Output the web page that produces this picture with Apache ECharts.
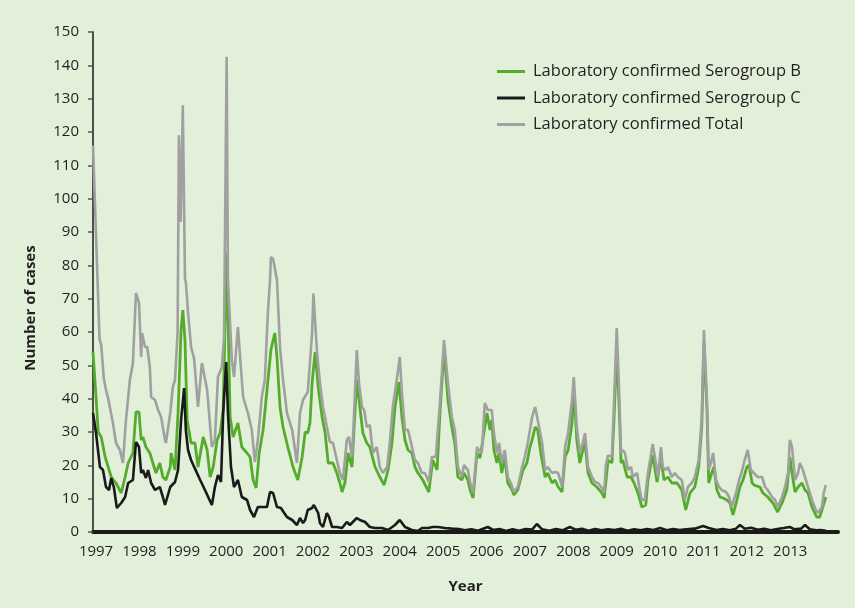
<!DOCTYPE html>
<html><head><meta charset="utf-8">
<script src="https://cdn.jsdelivr.net/npm/echarts@6/dist/echarts.min.js"></script>
<style>html,body{margin:0;padding:0;background:#e2efd9;} #c{width:855px;height:608px;}</style>
</head><body><div id="c"></div>
<script>
const yearTicks = [1997,1998,1999,2000,2001,2002,2003,2004,2005,2006,2007,2008,2009,2010,2011,2012,2013];
const seriesNames = ['Laboratory confirmed Serogroup B','Laboratory confirmed Serogroup C','Laboratory confirmed Total'];

const totalYears = [1996.93,1997.08,1997.12,1997.18,1997.23,1997.28,1997.32,1997.39,1997.46,1997.55,1997.62,1997.69,1997.78,1997.85,1997.92,1997.99,1998.04,1998.06,1998.13,1998.18,1998.24,1998.27,1998.36,1998.43,1998.50,1998.59,1998.61,1998.71,1998.77,1998.82,1998.88,1998.91,1998.95,1999.00,1999.05,1999.07,1999.12,1999.19,1999.26,1999.35,1999.44,1999.56,1999.67,1999.74,1999.81,1999.90,1999.95,2000.01,2000.04,2000.13,2000.18,2000.27,2000.32,2000.39,2000.50,2000.59,2000.66,2000.73,2000.82,2000.89,2000.96,2001.01,2001.03,2001.08,2001.12,2001.17,2001.24,2001.31,2001.40,2001.52,2001.63,2001.70,2001.77,2001.88,2001.98,2002.01,2002.09,2002.16,2002.23,2002.32,2002.39,2002.46,2002.55,2002.62,2002.69,2002.78,2002.83,2002.90,2002.94,2003.01,2003.06,2003.13,2003.18,2003.24,2003.31,2003.38,2003.47,2003.54,2003.61,2003.71,2003.77,2003.84,2003.94,2004.00,2004.05,2004.12,2004.19,2004.26,2004.35,2004.42,2004.51,2004.58,2004.67,2004.74,2004.83,2004.93,2005.02,2005.11,2005.20,2005.27,2005.34,2005.43,2005.48,2005.57,2005.62,2005.69,2005.78,2005.82,2005.89,2005.96,2006.03,2006.12,2006.17,2006.24,2006.29,2006.35,2006.42,2006.49,2006.56,2006.63,2006.72,2006.82,2006.88,2006.95,2007.05,2007.12,2007.18,2007.28,2007.35,2007.41,2007.51,2007.58,2007.65,2007.74,2007.81,2007.88,2007.97,2008.01,2008.08,2008.15,2008.22,2008.27,2008.34,2008.43,2008.50,2008.57,2008.66,2008.71,2008.75,2008.80,2008.89,2008.94,2009.00,2009.05,2009.10,2009.14,2009.19,2009.26,2009.33,2009.37,2009.47,2009.53,2009.58,2009.65,2009.72,2009.83,2009.88,2009.95,2010.02,2010.06,2010.13,2010.18,2010.27,2010.34,2010.41,2010.50,2010.57,2010.64,2010.73,2010.80,2010.89,2010.96,2011.01,2011.08,2011.12,2011.17,2011.22,2011.29,2011.36,2011.42,2011.52,2011.59,2011.65,2011.75,2011.82,2011.88,2011.95,2012.02,2012.09,2012.16,2012.25,2012.35,2012.42,2012.48,2012.58,2012.65,2012.71,2012.81,2012.88,2012.95,2012.99,2013.04,2013.11,2013.18,2013.22,2013.29,2013.36,2013.43,2013.50,2013.59,2013.64,2013.73,2013.77,2013.82];
const totalCases = [116,58,56,46,42.6,40,39.6,32.7,26.7,24.6,20.7,33.6,45.6,50.7,71.7,68.7,52.5,59.7,55.5,55.5,49.5,40.5,39.6,36.6,34.5,27.6,26.7,35.7,43.5,45.6,60,119,93,128,76,75,66,55.5,52,37.5,50.7,42.6,25.5,27.6,46.5,49.5,58.5,142.6,75.6,51.6,46.5,61.5,52.5,40.5,35.7,30.6,21,27.6,40.5,45.6,65.7,75.6,82.5,82,82.5,75.6,55.5,45.6,35.7,30.6,20.7,35.7,39.6,42,59.7,71.5,54.6,44.7,37.5,31.5,27,26.7,21.6,17.7,15.6,27.6,28.5,22.5,33.6,54.6,44.7,37.5,36.6,31.5,32.1,23.7,25.5,19.5,17.7,19.5,26.7,37.5,46.5,52.5,41.7,30.6,30.6,26.7,21.6,20.7,17.7,17.7,15,22.5,22.5,39.6,57.6,44.7,34.5,30.5,19.5,16.5,20.1,18.6,15,11.7,25.5,24.6,23.7,38.7,36.6,36.6,29.7,23.7,26.7,20.7,24.6,16.5,14.7,12,13.5,19.5,22.5,26.7,34.5,37.5,33.6,26.7,18.6,19.5,17.7,18,17.7,13.5,25.5,29.7,39.6,46.5,31.5,23.7,26.7,29.7,19.5,16.5,15,14.7,13.2,11.7,20,23,22.5,39.6,61.2,44.7,23.7,24.6,23.7,18.6,19.5,16.5,17.7,12.6,9.6,9.6,17.7,26.4,22.5,16.5,25.5,19.5,18.6,19.5,16.5,17.7,16.5,15.6,9.6,13.5,14.7,16.5,21.6,34.5,60.6,39.6,18.6,20.7,23.7,15.6,13.5,12.6,12,10.5,7.5,11.7,15.6,18,21.6,24.6,18.6,17.7,16.5,16.5,13.5,12.6,10.5,9.6,7.5,10.5,13.5,17.7,27.6,25.5,15.6,17.7,20.7,18.6,15.6,12.6,9.6,6.6,5.7,7.5,11.7,14.1];

const groupBYears = [1996.93,1997.00,1997.05,1997.12,1997.21,1997.28,1997.35,1997.46,1997.58,1997.67,1997.74,1997.85,1997.92,1997.99,1998.04,1998.08,1998.15,1998.24,1998.31,1998.38,1998.47,1998.54,1998.61,1998.71,1998.73,1998.82,1998.89,1998.96,1999.00,1999.05,1999.10,1999.19,1999.28,1999.35,1999.47,1999.56,1999.63,1999.70,1999.79,1999.86,1999.93,2000.01,2000.09,2000.16,2000.27,2000.36,2000.48,2000.55,2000.62,2000.69,2000.76,2000.85,2000.94,2001.03,2001.12,2001.17,2001.24,2001.31,2001.42,2001.54,2001.65,2001.75,2001.82,2001.88,2001.93,2001.98,2002.05,2002.12,2002.21,2002.28,2002.35,2002.46,2002.55,2002.62,2002.67,2002.74,2002.81,2002.90,2002.94,2003.01,2003.08,2003.15,2003.24,2003.31,2003.43,2003.54,2003.64,2003.73,2003.82,2003.89,2003.98,2004.05,2004.12,2004.19,2004.28,2004.35,2004.42,2004.53,2004.67,2004.76,2004.86,2004.93,2005.02,2005.11,2005.20,2005.27,2005.34,2005.43,2005.48,2005.57,2005.62,2005.69,2005.78,2005.85,2005.89,2006.01,2006.08,2006.12,2006.17,2006.24,2006.29,2006.35,2006.42,2006.49,2006.59,2006.63,2006.72,2006.84,2006.93,2007.00,2007.05,2007.12,2007.18,2007.25,2007.35,2007.41,2007.51,2007.58,2007.65,2007.74,2007.81,2007.88,2007.97,2008.01,2008.08,2008.15,2008.22,2008.27,2008.34,2008.43,2008.54,2008.66,2008.71,2008.75,2008.80,2008.89,2008.94,2009.00,2009.05,2009.10,2009.14,2009.24,2009.33,2009.40,2009.49,2009.58,2009.67,2009.72,2009.83,2009.93,2010.02,2010.09,2010.18,2010.27,2010.39,2010.50,2010.59,2010.69,2010.80,2010.89,2010.96,2011.01,2011.08,2011.12,2011.19,2011.24,2011.31,2011.38,2011.45,2011.54,2011.61,2011.68,2011.77,2011.84,2011.91,2012.00,2012.05,2012.12,2012.18,2012.30,2012.37,2012.48,2012.60,2012.71,2012.81,2012.92,2012.99,2013.04,2013.11,2013.18,2013.27,2013.34,2013.41,2013.50,2013.61,2013.68,2013.75,2013.82];
const groupBCases = [54,40.5,30,28.5,22.5,19.5,16.5,14.7,11.7,16.5,20.7,23.7,36,36,27.6,28.5,25.5,23.7,20.7,17.7,20.7,16.5,15.6,19.5,23.7,18.6,35.7,60.6,66.6,57.6,33.6,26.7,26.7,19.5,28.5,24.6,16.5,19.5,27.6,29.7,36.6,84,34.5,28.5,32.7,25.5,23.7,22.5,15.6,13.2,23.7,30.6,42.6,54.6,59.7,52.5,37.5,31.5,25.5,19.5,15.6,22.5,30,29.7,32.7,44.7,54,43.5,34.5,29.7,20.7,20.7,17.7,14.7,12,15,23.7,19.5,29.7,45.6,37.5,29.7,26.7,25.5,19.5,16.5,14.1,18.6,26.7,37.5,45,34.5,27.6,24.6,23.7,19.5,17.7,15.6,12,21.6,18.6,36.6,54.6,39.6,31.5,26.5,16.5,15.6,17.7,15.6,12.6,10.2,23.7,22.2,22.5,35.7,30.6,33.6,24.6,20.7,23.7,17.7,22.2,14.7,12.6,11.1,12.6,18.6,20.7,25.5,27.6,31.5,30.6,23.7,16.5,17.7,14.7,15.6,13.5,12,22.5,24.6,32.7,43.5,27.6,20.7,24.6,26.7,17.7,14.7,13.5,11.7,10.2,15,21.6,20.7,34.5,54.6,39.6,20.7,21.6,16.5,16.5,14.7,11.7,7.5,8.1,15.6,23.1,15,22.5,15.6,16.5,14.7,14.7,12.6,6.6,11.7,13.5,19.5,31.5,56.7,36.6,14.7,17.7,19.5,12.6,10.5,10.2,9.6,8.7,5.1,9.6,13.5,15.6,19.5,20.1,14.7,14,13.5,11.7,10.5,8.7,6,8.7,12.6,22.5,17.7,12,13.5,14.7,12.6,11.7,7.5,4.5,4.5,7.5,10.5];

const groupCYears = [1996.93,1997.00,1997.09,1997.16,1997.23,1997.30,1997.35,1997.41,1997.48,1997.58,1997.67,1997.74,1997.85,1997.92,1997.99,1998.04,1998.08,1998.15,1998.20,1998.27,1998.36,1998.47,1998.54,1998.59,1998.71,1998.82,1998.89,1998.96,1999.03,1999.07,1999.12,1999.19,1999.28,1999.40,1999.51,1999.67,1999.74,1999.81,1999.88,1999.93,2000.00,2000.04,2000.11,2000.18,2000.27,2000.36,2000.48,2000.55,2000.64,2000.73,2000.85,2000.94,2001.01,2001.08,2001.17,2001.26,2001.40,2001.52,2001.63,2001.70,2001.77,2001.82,2001.88,2001.98,2002.02,2002.12,2002.16,2002.23,2002.32,2002.37,2002.44,2002.55,2002.67,2002.78,2002.85,2003.01,2003.08,2003.20,2003.31,2003.43,2003.59,2003.73,2003.89,2004.00,2004.12,2004.28,2004.42,2004.51,2004.65,2004.76,2004.88,2005.04,2005.20,2005.36,2005.50,2005.65,2005.80,2006.03,2006.15,2006.30,2006.45,2006.60,2006.75,2006.90,2007.05,2007.16,2007.28,2007.45,2007.60,2007.75,2007.92,2008.05,2008.20,2008.35,2008.50,2008.65,2008.80,2008.95,2009.10,2009.25,2009.40,2009.55,2009.70,2009.85,2010.00,2010.15,2010.30,2010.45,2010.60,2010.80,2010.99,2011.12,2011.30,2011.45,2011.60,2011.75,2011.84,2011.95,2012.10,2012.25,2012.40,2012.55,2012.70,2012.85,2012.99,2013.10,2013.25,2013.34,2013.45,2013.60,2013.70,2013.82];
const groupCCases = [35.7,29.7,19.5,18.6,13.5,12.6,16.2,13.5,7.2,8.7,10.5,14.7,15.6,27,25.5,17.7,18.6,16.2,18.6,14.7,12.6,13.5,10.5,8.1,13.5,15,18.6,33.6,43.2,30.6,24.6,21.6,19,15.6,12.6,8.1,13.5,17.1,15,35.7,51,35.7,19.5,13.5,15.6,10.5,9.6,6.6,4.5,7.5,7.5,7.5,12,11.7,7.5,7.2,4.5,3.6,2.1,4.2,2.7,3.6,6.6,7.2,8.1,5.7,2.7,1.5,5.7,4.5,1.5,1.5,1.2,3,2.1,4.2,3.6,3,1.5,1.2,1.2,0.6,2.1,3.6,1.5,0.6,0.3,1.2,1.2,1.5,1.5,1.2,1,0.9,0.5,0.8,0.4,1.5,0.6,0.9,0.3,0.8,0.4,0.9,0.7,2.4,0.8,0.4,0.9,0.5,1.5,0.7,1,0.4,0.9,0.5,0.8,0.6,1,0.4,0.8,0.5,0.9,0.6,1.2,0.5,0.9,0.6,0.8,1,1.8,1.2,0.6,0.9,0.5,1,2.1,1,1.3,0.7,1,0.5,0.9,1.2,1.5,0.8,1,2.1,0.8,0.5,0.6,0.4];

const zip = (xs, ys) => xs.map((x, i) => [x, ys[i]]);
const inkText = '#231f20';
const font = 'Open Sans';

const chart = echarts.init(document.getElementById('c'), null, {renderer: 'canvas'});
chart.setOption({
  backgroundColor: '#e2efd9',
  animation: false,
  textStyle: {fontFamily: font},
  grid: {left: 93, right: 17, top: 32, bottom: 76},
  legend: {
    orient: 'vertical', left: 492, top: 58, itemWidth: 28, itemHeight: 3, itemGap: 9.5,
    icon: 'rect',
    textStyle: {fontFamily: font, fontSize: 16.5, color: inkText, lineHeight: 16, padding: [0, 0, 0, 3]},
    data: seriesNames
  },
  xAxis: {
    type: 'value', min: 1996.93, max: 2014.1,
    name: 'Year', nameLocation: 'middle', nameGap: 47,
    nameTextStyle: {fontFamily: font, fontWeight: 'bold', fontSize: 15, color: inkText},
    axisLine: {lineStyle: {color: '#1a1a1a', width: 4}},
    axisTick: {show: false},
    splitLine: {show: false},
    axisLabel: {customValues: yearTicks, formatter: v => String(Math.round(v)), fontFamily: font, fontSize: 15, color: inkText, margin: 12}
  },
  yAxis: {
    type: 'value', min: 0, max: 150, interval: 10,
    name: 'Number of cases', nameLocation: 'middle', nameGap: 55, nameRotate: 90,
    nameTextStyle: {fontFamily: font, fontWeight: 'bold', fontSize: 15, color: inkText, padding: [0, 52, 0, 0]},
    axisLine: {show: true, lineStyle: {color: '#1a1a1a', width: 1.5}},
    axisTick: {show: true, length: 5, lineStyle: {color: '#555', width: 1.5}},
    splitLine: {show: false},
    axisLabel: {fontFamily: font, fontSize: 15, color: inkText, margin: 14}
  },
  series: [
    {name: seriesNames[0], type: 'line', data: zip(groupBYears, groupBCases), showSymbol: false, color: '#55ac2c', lineStyle: {width: 2.8, color: '#55ac2c'}, z: 2},
    {name: seriesNames[1], type: 'line', data: zip(groupCYears, groupCCases), showSymbol: false, color: '#1a1a1a', lineStyle: {width: 2.6, color: '#1a1a1a'}, z: 4},
    {name: seriesNames[2], type: 'line', data: zip(totalYears, totalCases), showSymbol: false, color: '#a0a0a0', lineStyle: {width: 2.6, color: '#a0a0a0'}, z: 3}
  ]
});
</script></body></html>
